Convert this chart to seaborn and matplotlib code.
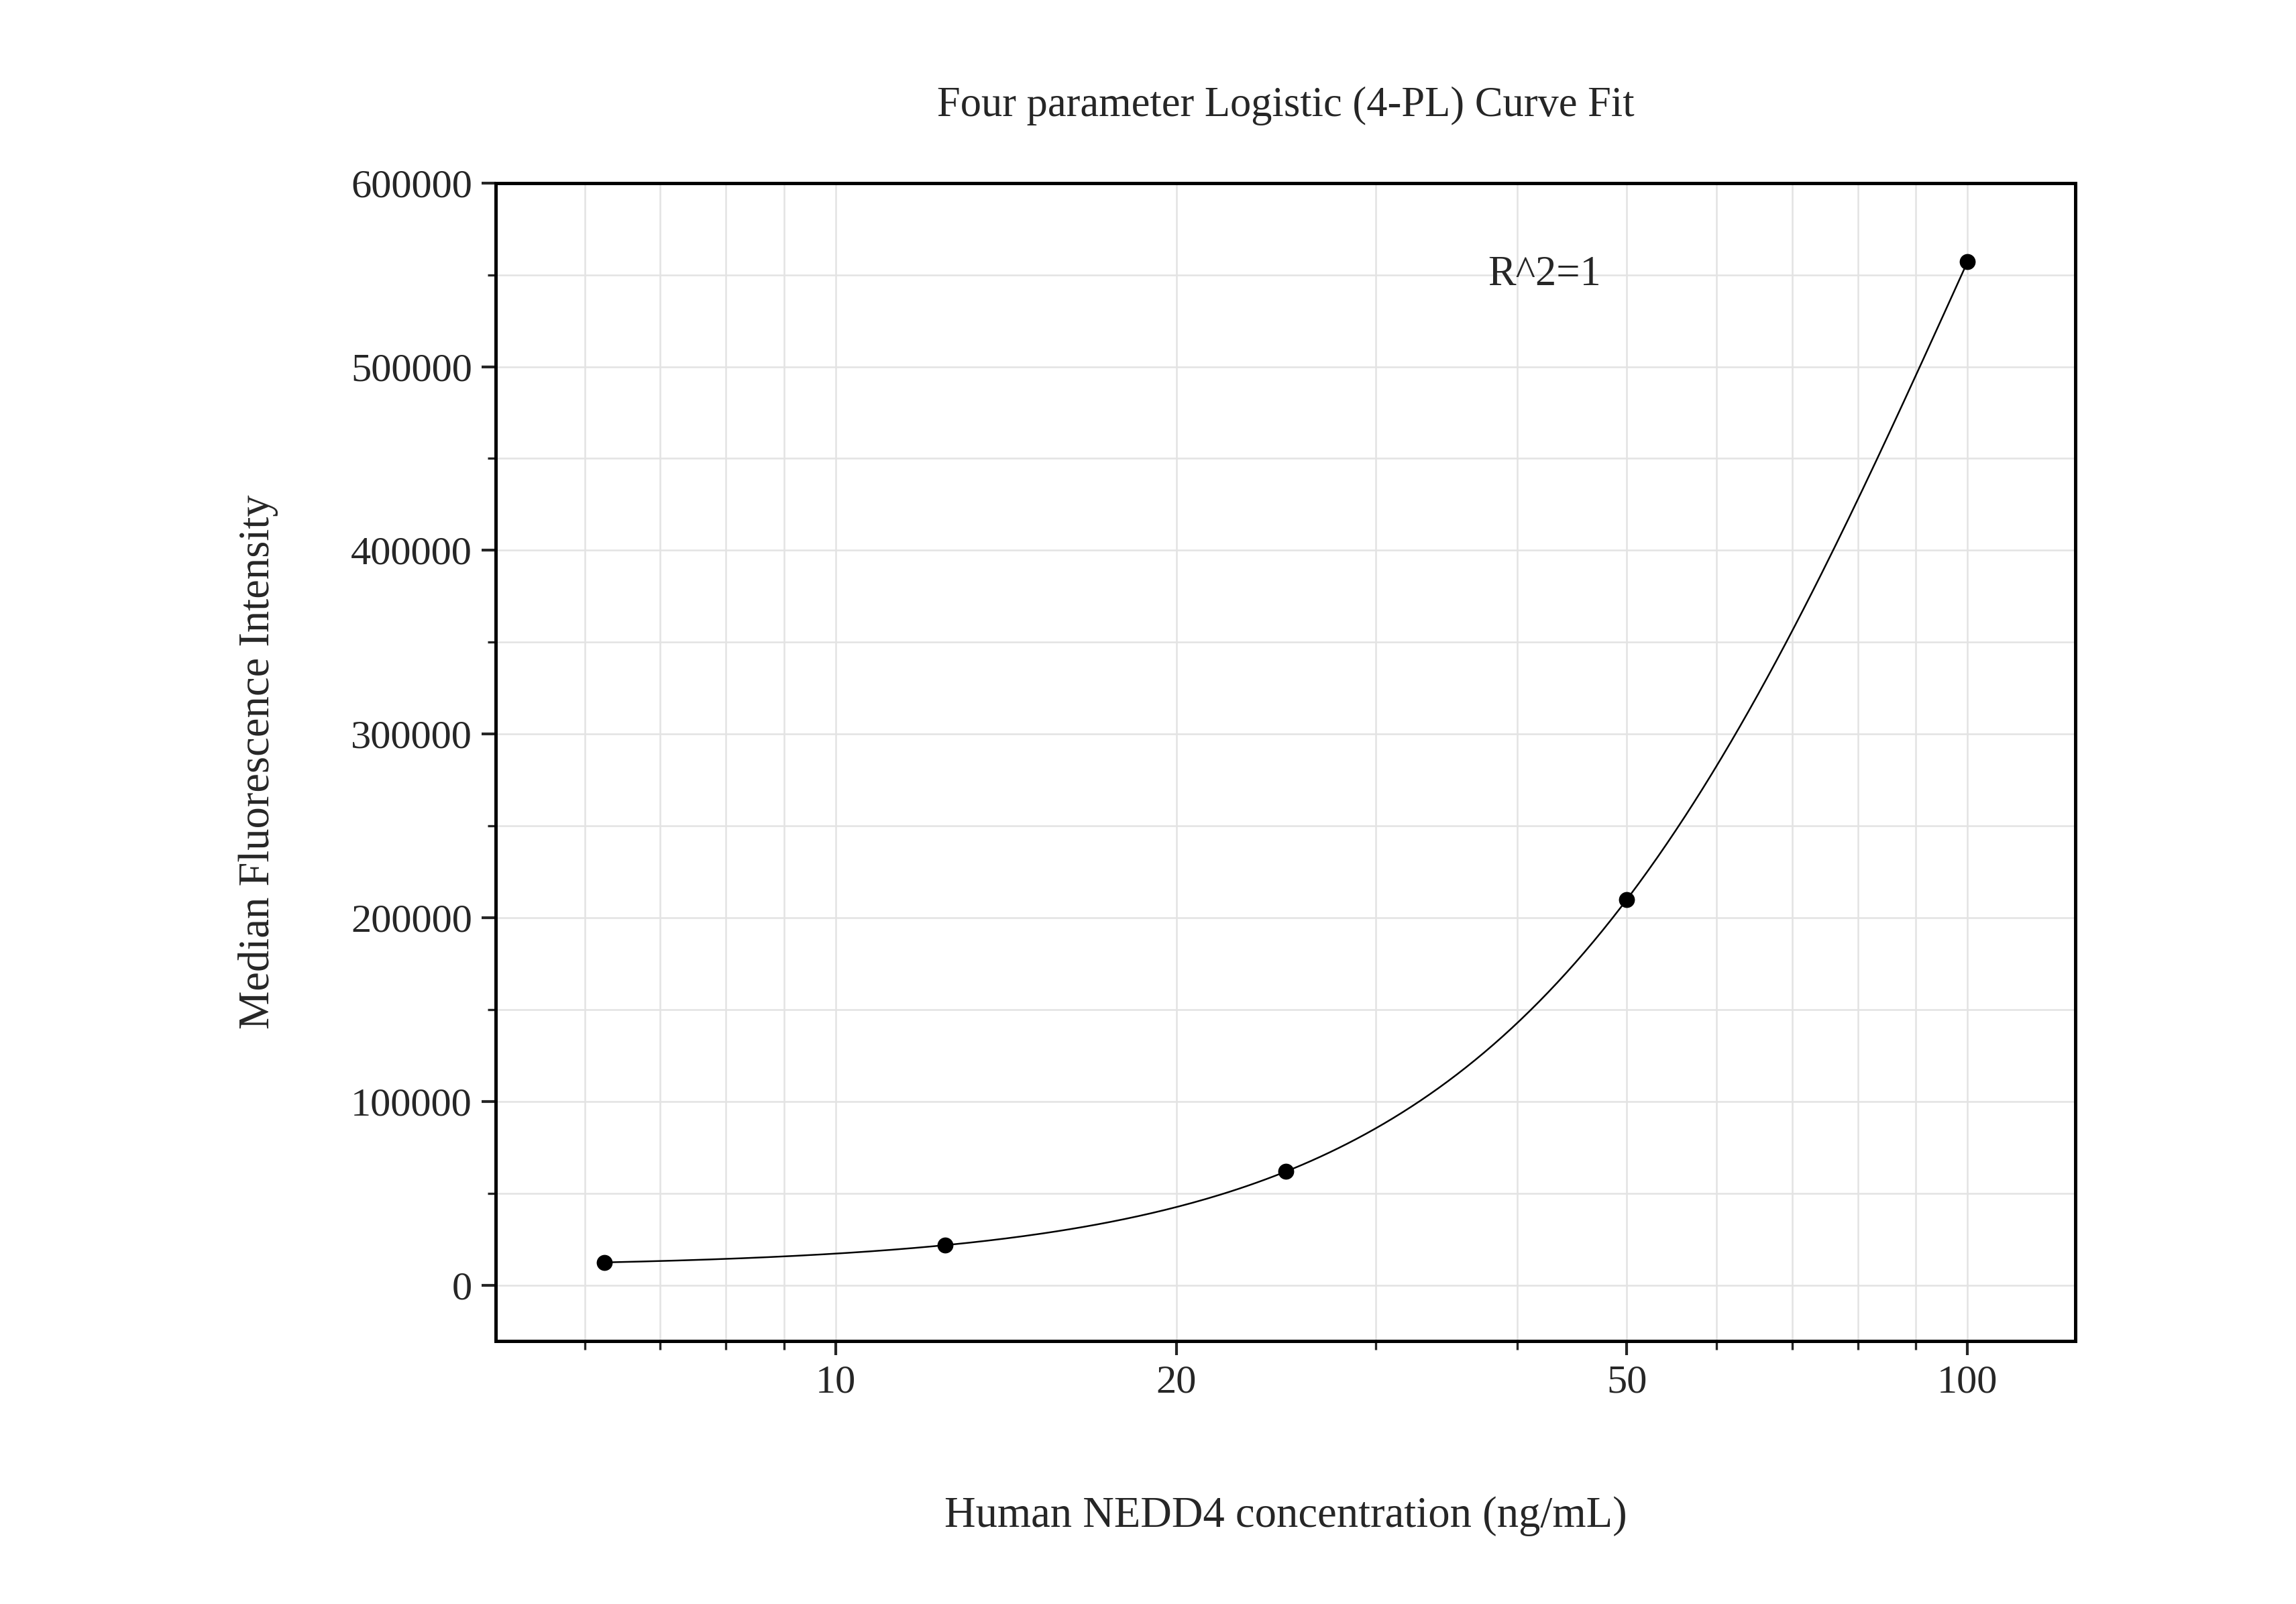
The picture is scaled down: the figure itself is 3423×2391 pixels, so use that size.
import numpy as np
import matplotlib
matplotlib.use("Agg")
import matplotlib.pyplot as plt
import seaborn as sns
from matplotlib.ticker import FixedLocator, NullFormatter, MultipleLocator

conc = [6.25, 12.5, 25, 50, 100]
mfi = [12500, 22000, 62000, 210000, 557000]
xticks = [10, 20, 50, 100]
yticks = [0, 100000, 200000, 300000, 400000, 500000, 600000]

x = np.array(conc, float); y = np.array(mfi, float)
def f(p, xx):
    A, B, C, D = p
    return D + (A - D) / (1 + (xx / C) ** B)
p = np.array([11000.0, 2.5, 120.0, 1.2e6])
lam = 1e-3
for _ in range(500):
    r = y - f(p, x)
    J = np.empty((len(x), 4))
    for k in range(4):
        dp = np.zeros(4); dp[k] = abs(p[k]) * 1e-6 + 1e-9
        J[:, k] = (f(p + dp, x) - f(p - dp, x)) / (2 * dp[k])
    H = J.T @ J
    g = J.T @ r
    step = np.linalg.solve(H + lam * np.diag(np.diag(H)), g)
    pn = p + step
    if pn[2] > 0 and np.sum((y - f(pn, x)) ** 2) < np.sum(r ** 2):
        p = pn; lam *= 0.3
    else:
        lam *= 10
xs = np.logspace(np.log10(6.25), np.log10(100), 300)

sns.set_style("white")
plt.rcParams["font.family"] = "Liberation Serif"
fig = plt.figure(figsize=(3423/300, 2391/300), dpi=300)
ax = fig.add_axes([0.216, 0.164, 0.688, 0.722])
ax.set_xscale("log")
sns.lineplot(x=xs, y=f(p, xs), ax=ax, color="black", lw=0.6)
sns.scatterplot(x=conc, y=mfi, ax=ax, color="black", s=28, edgecolor="black", zorder=3)
ax.set_xlim(5.01, 124.6)
ax.set_ylim(-30200, 600000)
ax.xaxis.set_major_locator(FixedLocator(xticks))
ax.set_xticklabels([str(t) for t in xticks])
ax.xaxis.set_minor_locator(FixedLocator([6,7,8,9,30,40,60,70,80,90]))
ax.xaxis.set_minor_formatter(NullFormatter())
ax.set_yticks(yticks)
ax.set_yticklabels([str(t) for t in yticks])
ax.yaxis.set_minor_locator(MultipleLocator(50000))
ax.grid(True, which="both", color="#e3e3e3", lw=0.6)
ax.set_axisbelow(True)
for s in ax.spines.values():
    s.set_color("black"); s.set_linewidth(1.2)
ax.tick_params(which="major", direction="out", length=5, width=1, labelsize=14.5, left=True, bottom=True)
ax.tick_params(which="minor", direction="out", length=3, width=0.8, left=True, bottom=True)
ax.set_xlabel("Human NEDD4 concentration (ng/mL)", fontsize=15.5, labelpad=34)
ax.set_ylabel("Median Fluorescence Intensity", fontsize=15.5, labelpad=26)
ax.set_title("Four parameter Logistic (4-PL) Curve Fit", fontsize=15, pad=24)
ax.text(42.3, 550000, "R^2=1", fontsize=15, ha="center", va="center")
fig.savefig("out.png", dpi=300)
